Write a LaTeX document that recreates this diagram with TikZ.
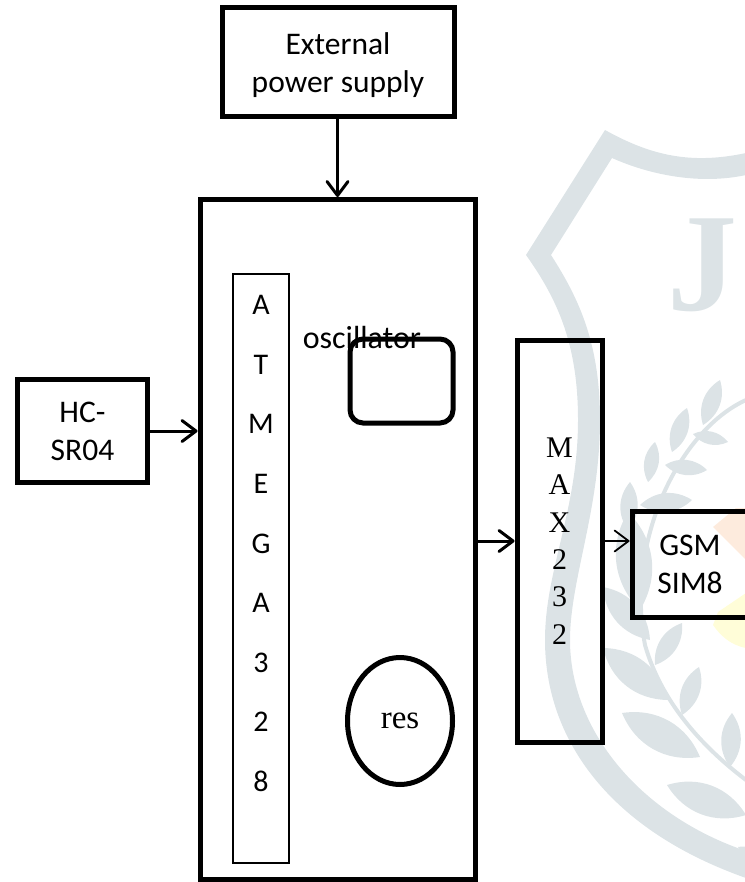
\documentclass[tikz,border=0pt]{standalone}
\usepackage{fontspec}
\usetikzlibrary{shapes.geometric,arrows.meta}
\setmainfont{Carlito}
\newfontfamily\maxfont{Liberation Serif}
\definecolor{markgrey}{HTML}{DCE3E6}
\definecolor{patchorange}{HTML}{FDEBDD}
\definecolor{patchyellow}{HTML}{FFFDD8}
\tikzset{
  heavybox/.style={draw,line width=5pt,inner sep=0pt,align=center,font=\fontsize{31.5}{38}\selectfont},
  stack/.style={draw,line width=1.4pt,inner sep=0pt,align=center,font=\fontsize{30}{59.6}\selectfont},
  link/.style={-{Straight Barb[length=14pt,width=21pt,round]},line width=3pt},
  leaf/.style={fill=markgrey,draw=none}
}
\begin{document}
\begin{tikzpicture}[x=1pt,y=-1pt]
  \useasboundingbox (0,0) rectangle (744,882);
  \fill[patchorange] (713,527) -- (736,508) -- (746,508) -- (746,560) -- cycle;
  \fill[patchyellow] (713,625) -- (718,612) -- (746,593) -- (746,648) .. controls (730,645) and (720,635) .. (713,625) -- cycle;
  \fill[markgrey]
    (746,153) .. controls (690,165) and (650,155) .. (605,130) -- (526,255)
    .. controls (558,300) and (578,345) .. (578,420)
    .. controls (578,510) and (545,570) .. (545,640)
    .. controls (545,740) and (610,830) .. (746,878) -- (746,851)
    .. controls (640,815) and (570,730) .. (570,640)
    .. controls (570,580) and (600,510) .. (600,420)
    .. controls (600,345) and (580,300) .. (551,255) -- (612,158)
    .. controls (650,175) and (700,185) .. (746,175) -- cycle;
  \draw[markgrey,line width=4pt]
    (746,400) .. controls (680,430) and (625,540) .. (645,645)
    .. controls (655,680) and (680,730) .. (746,780);
  \foreach \tx/\ty/\bx/\by in {
      720/380/703/425, 687/408/672/452, 655/442/648/482, 630/482/628/530,
      728/442/693/434, 707/470/665/465, 692/500/640/505, 628/512/640/610,
      603/587/650/640, 603/648/668/700, 622/713/700/757, 667/785/746/815,
      682/623/655/665, 699/667/682/715, 732/713/730/767, 738/847/760/858}
    \path[leaf] (\tx,\ty) to[bend left=38] (\bx,\by) to[bend left=38] (\tx,\ty) -- cycle;
  \draw (702,265) node[text=markgrey,font=\maxfont\bfseries\fontsize{140}{140}\selectfont] (mark){J};

  \draw
    (338,62.5) node[heavybox,minimum width=232pt,minimum height=109pt,text depth=0pt] (supply){External\\power supply}
    (337.5,539.5) node[heavybox,minimum width=275pt,minimum height=680pt] (mcu){}
    (82.5,431) node[heavybox,minimum width=130pt,minimum height=103pt] (sensor){HC-\\SR04}
    (261,568.5) node[stack,minimum width=56pt,minimum height=589pt,text depth=50pt] (atmega){A\\T\\M\\E\\G\\A\\3\\2\\8}
    (401.5,381) node[heavybox,rounded corners=13pt,minimum width=103pt,minimum height=84pt] (osc){}
    (362,338) node[font=\fontsize{32}{36}\selectfont] (osclabel){oscillator}
    (400,721) node[draw,ellipse,line width=5pt,minimum width=105pt,minimum height=127pt,inner sep=0pt,font=\maxfont\fontsize{33}{36}\selectfont] (res){res}
    (559.5,541) node[heavybox,minimum width=85pt,minimum height=402pt,font=\maxfont\fontsize{30}{37.4}\selectfont] (max){M\\A\\X\\2\\3\\2}
    (690,564) node[heavybox,minimum width=116pt,minimum height=106pt] (gsm){GSM\\SIM8};
  \begin{scope}[link]
    \draw (supply.south -| mcu.north) to (mcu.north);
    \draw (sensor.east) to (sensor.east -| mcu.west);
    \draw (max.west -| mcu.east) to (max.west);
    \draw[line width=1.8pt] (max.east) to (max.east -| gsm.west);
  \end{scope}
\end{tikzpicture}
\end{document}
